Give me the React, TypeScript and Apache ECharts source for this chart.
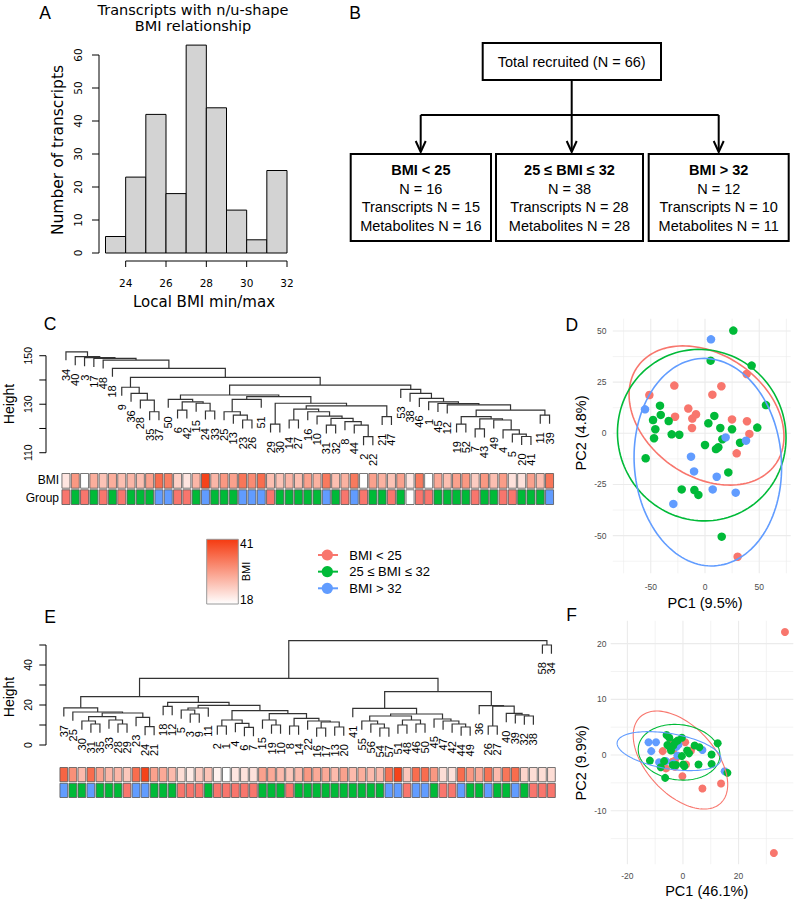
import React, { useEffect, useRef } from "react";
import * as echarts from "echarts";

const W = 794;
const H = 899;
const ARIAL = "'Liberation Sans', Arial, Helvetica, sans-serif";
const DEJAVU = "'DejaVu Sans', Verdana, sans-serif";
const RED = "#F8766D";
const GREEN = "#00BA38";
const BLUE = "#619CFF";
const GROUP_COLORS: Record<string, string> = { L: RED, M: GREEN, H: BLUE, N: "#FFFFFF" };

// ---------------- Panel A : histogram ----------------
const HIST_EDGES = [23, 24, 25, 26, 27, 28, 29, 30, 31, 32];
const HIST_COUNTS = [5, 23, 42, 18, 63, 44, 13, 4, 25];
const HIST_Y_TICKS = [0, 10, 20, 30, 40, 50, 60];
const HIST_X_TICKS = [24, 26, 28, 30, 32];

// ---------------- Panel B : flowchart ----------------
const FLOW_TOP = "Total recruited (N = 66)";
const FLOW_GROUPS = ["BMI < 25", "25 \u2264 BMI \u2264 32", "BMI > 32"];
const FLOW_N = [16, 38, 12];
const FLOW_TRANSCRIPTS = [15, 28, 10];
const FLOW_METABOLITES = [16, 28, 11];

// ---------------- Panel C : transcript dendrogram ----------------
const C_ORDER = [34, 40, 3, 17, 48, 18, 9, 36, 28, 35, 37, 50, 6, 42, 15, 24, 33, 25, 13, 23, 26, 51, 29, 30, 14, 27, 16, 10, 31, 32, 8, 44, 2, 22, 21, 47, 53, 38, 46, 1, 45, 12, 19, 52, 7, 43, 49, 4, 5, 20, 41, 11, 39];
// [left, right, height]; negative = leaf label, positive = earlier merge row (1-based)
const C_MERGES = [
  [-35, -37, 126.9], [-28, 1, 131.7], [-36, 2, 134.5], [-9, 3, 137.0],
  [-6, -42, 127.6], [-24, -33, 127.2], [-15, 6, 130.4], [5, 7, 131.0], [-50, 8, 132.0],
  [-23, -26, 123.5], [-13, 10, 125.5], [-25, 11, 126.9], [12, -51, 132.0],
  [-2, -22, 116.6], [-44, 14, 121.4], [-8, 15, 122.8], [-31, -32, 121.4], [17, 16, 124.2],
  [-10, 18, 125.1], [-16, 19, 126.9], [-14, -27, 123.5], [21, 20, 128.0], [-21, -47, 124.9],
  [22, 23, 129.3], [-29, -30, 121.8], [25, 24, 130.4], [13, 26, 133.1], [9, 27, 133.8],
  [-11, -39, 125.5], [-20, -41, 116.7], [-5, 30, 117.7], [-4, 31, 119.4], [-49, 32, 123.5],
  [-7, -43, 119.8], [34, 33, 124.0], [-19, -52, 121.8], [36, 35, 124.9], [37, 29, 127.6],
  [-12, 38, 129.7], [-45, 39, 130.3], [-1, 40, 131.0], [-46, 41, 132.4], [-38, 42, 134.5],
  [-53, 43, 136.1], [28, 44, 137.9], [4, 45, 141.1], [-18, 46, 144.8], [-48, 47, 148.2],
  [-17, 48, 148.9], [-3, 49, 149.2], [-40, 50, 149.6], [-34, 51, 151.6],
];
const C_BMI = [21, 30, 18, 27.5, 25, 27.5, 25.5, 26.5, 25.5, 29, 35, 33, 23.5, 21, 26.5, 40, 26.5, 30, 29, 34, 31.5, 35, 25.5, 25, 26.5, 25.5, 29, 27, 33.5, 25.5, 27, 33.5, 18, 29, 27, 25, 29, 21, 33.5, 18, 28, 25.5, 29, 30, 24, 30, 25.5, 29.5, 21.5, 21.5, 29, 25.5, 34];
const C_GROUP = ["L", "M", "L", "M", "L", "M", "L", "M", "M", "M", "H", "H", "L", "L", "M", "H", "M", "M", "M", "H", "H", "H", "L", "M", "M", "M", "M", "M", "H", "M", "L", "H", "L", "M", "M", "L", "M", "N", "L", "L", "M", "M", "M", "M", "L", "M", "M", "L", "L", "M", "M", "M", "H"];
const C_Y_TICKS = [110, 120, 130, 140, 150];
const C_Y_LABELS = [110, 130, 150];

// ---------------- Panel D : transcript PCA ----------------
const D_RED = [[-51.3, 18.7], [-28.3, 23.3], [-27.6, 8.1], [-15.4, 12.1], [-11.7, 7.2], [-12, 2.6], [-8.3, 9.3], [6.8, 18.9], [15.1, 23], [24.9, 6.8], [38.4, 29], [38.7, 5.9], [40.9, -0.3], [29.2, -9.8], [30.1, -60.3]];
const D_GREEN = [[26.1, 50.2], [5.2, 35.5], [43, 33.1], [56.2, 13.8], [-41.5, 13.5], [-40.8, 9], [-47.9, 6.5], [-45.8, 2], [-47, -2.4], [-33.5, 6], [-30.7, -0.5], [-23.7, -0.7], [-54.7, -12.2], [3.1, 4.9], [8.6, 8.5], [14.1, 2.6], [24.9, 2], [48.2, 2.8], [16, -2.9], [12.3, -6.8], [10.1, -7.7], [0, -5.7], [32.3, -4.6], [21.5, -19.1], [-21.5, -27.4], [-9.8, -27.7], [-6.1, -30.1], [15.4, -50.5]];
const D_BLUE = [[5.5, 45.9], [-55.3, 11.7], [-12.9, -11.4], [-10.1, -18.6], [10.8, -21.2], [19, -2], [37.8, -3.6], [7.1, -27.4], [28.3, -29], [-29.2, -34.5]];
// [cx, cy, sx, sy, r]
const D_ELL_RED = [1.4, 8.7, 71.4, 34, -0.3];
const D_ELL_GREEN = [-3, -0.9, 77.7, 41.9, -0.03];
const D_ELL_BLUE = [2.6, -14.1, 68, 50.7, -0.05];
const D_X_LABELS = [-50, 0, 50];
const D_Y_LABELS = [-50, -25, 0, 25, 50];

// ---------------- Panel E : metabolite dendrogram ----------------
const E_ORDER = [37, 25, 30, 31, 35, 33, 28, 29, 23, 24, 21, 18, 12, 5, 3, 9, 11, 2, 1, 4, 6, 7, 15, 19, 10, 8, 14, 22, 16, 17, 13, 20, 41, 55, 56, 54, 57, 51, 48, 46, 50, 45, 47, 42, 44, 49, 36, 26, 27, 40, 39, 32, 38, 58, 34];
const E_MERGES = [
  [-31, -35, 10.5], [-30, 1, 12.0], [-28, -29, 10.5], [-33, 3, 12.5], [2, 4, 14.2],
  [-24, -21, 9.2], [-23, 6, 13.8], [5, 7, 16.0], [-25, 8, 16.5], [-37, 9, 18.6],
  [-18, -12, 19.3], [-3, -9, 15.5], [-5, 12, 17.5], [13, -11, 18.5],
  [-6, -7, 8.8], [-4, 15, 10.8], [-2, -1, 9.5], [17, 16, 12.5],
  [-19, -10, 10.0], [-15, 19, 12.5], [-8, -14, 9.5], [-16, -17, 8.5], [-13, -20, 9.0],
  [22, 23, 11.5], [-22, 24, 12.0], [21, 25, 13.3], [20, 26, 15.7], [18, 27, 17.2],
  [14, 28, 19.8], [11, 29, 21.3], [10, 30, 24.2],
  [-54, -57, 8.5], [-56, 32, 10.5], [-55, 33, 12.0], [-51, -48, 10.0], [-46, -50, 10.5],
  [35, 36, 12.5], [34, 37, 14.5], [-44, -49, 9.0], [-42, 39, 10.5], [-47, 40, 12.0],
  [-45, 41, 13.0], [38, 42, 15.5], [-41, 43, 18.3],
  [-32, -38, 14.5], [-39, 45, 15.1], [-40, 46, 15.8], [-26, -27, 9.5], [48, 47, 19.4],
  [-36, 49, 19.7], [44, 50, 26.7], [31, 51, 33.3], [-58, -34, 50.0], [52, 53, 52.2],
];
const E_BMI = [36, 31, 26, 35, 29, 26.5, 26.5, 24.5, 35, 40, 29, 28, 26, 22, 20.5, 24, 25, 19.5, 18, 21, 21.5, 21.5, 29, 28, 26, 24.5, 26, 30, 28, 28, 26, 29, 26, 27.5, 26, 26, 34.5, 40, 24.5, 35, 35, 30, 22, 21.5, 35, 30, 28, 34.5, 26, 34, 35, 23, 22, 22, 22];
const E_GROUP = ["H", "M", "M", "H", "M", "M", "M", "L", "H", "H", "M", "M", "M", "L", "L", "L", "M", "L", "L", "L", "L", "L", "M", "M", "M", "L", "M", "M", "M", "M", "M", "M", "M", "M", "M", "M", "H", "H", "L", "H", "H", "M", "L", "L", "H", "M", "M", "H", "M", "M", "H", "M", "L", "L", "L"];
const E_Y_TICKS = [0, 10, 20, 30, 40, 50];
const E_Y_LABELS = [0, 20, 40];

// ---------------- Panel F : metabolite PCA ----------------
const F_RED = [[36.7, 22.1], [32.7, -17.6], [7, -6], [13.7, -5.1], [-0.2, -3.8], [0.8, 2.3], [-7.3, 0.7], [-6.1, -2.4], [-2.9, -2.1], [1.1, -1.7], [2.9, 0.8], [-3.5, 0.9], [-2.9, -1], [-4.7, 2], [-1.7, -0.2], [-3.8, -1.2]];
const F_GREEN = [[-5.9, 3.6], [-4.9, 3.1], [-5.6, 1.8], [-4.7, 1.5], [-3.5, 1.7], [-4.3, 0.8], [-1.9, 2.6], [-0.4, 3.1], [4.2, 1.7], [5.9, 1.4], [2.2, 0.3], [-0.4, -0.2], [10.3, 0.1], [12.5, 2.1], [-11.9, -1], [-6.8, -1.1], [-8, -2.2], [-3.7, -1.8], [-2.5, -1.8], [0.1, -1.7], [0.5, -2], [5.6, -1.7], [10.3, -1.6], [16, -3.2], [-6.4, -4.1], [-4.5, 1.2], [-2.8, 2.3], [1.5, 0.8]];
const F_BLUE = [[-12.4, 2.3], [-9.7, 2.3], [-11.4, 0.7], [-8.6, -1.3], [-6.1, -1.1], [-2.3, 1.5], [-1.6, 1.9], [-2, -0.1], [7, 0.9], [15, -2.9], [-3.5, -1.5]];
const F_ELL_RED = [-0.9, -0.9, 17, 8.8, -0.5];
const F_ELL_GREEN = [-1.4, 0.5, 14.7, 5, -0.1];
const F_ELL_BLUE = [-5, 0.7, 18.7, 3.5, -0.4];
const F_X_LABELS = [-20, 0, 20];
const F_Y_LABELS = [-10, 0, 10, 20];

// ---------------- BMI colour scale / legend ----------------
const BMI_RANGE = [18, 41];
const BMI_LOW_RGB = [255, 255, 255];
const BMI_HIGH_RGB = [245, 58, 16];
const LEGEND_LABELS = ["BMI < 25", "25 \u2264 BMI \u2264 32", "BMI > 32"];
const LEGEND_COLORS = [RED, GREEN, BLUE];

function bmiColor(v: number) {
  const t = Math.max(0, Math.min(1, (v - BMI_RANGE[0]) / (BMI_RANGE[1] - BMI_RANGE[0])));
  const c = BMI_LOW_RGB.map((lo, k) => Math.round(lo + (BMI_HIGH_RGB[k] - lo) * t));
  return `rgb(${c[0]},${c[1]},${c[2]})`;
}

function buildDendro(order: number[], merges: number[][]) {
  const pos = new Map(order.map((lab, i) => [lab, i]));
  const hs = merges.map((m) => m[2]);
  const hang = 0.1 * (Math.max(...hs) - Math.min(...hs));
  const nodeX: number[] = [];
  const nodeH: number[] = [];
  const links: number[][] = [];
  const leaves: number[][] = [];
  merges.forEach(([a, b, h], k) => {
    const side = (r: number) => {
      if (r < 0) {
        const x = pos.get(-r) as number;
        leaves.push([x, h - hang, -r]);
        return [x, h - hang];
      }
      return [nodeX[r - 1], nodeH[r - 1]];
    };
    const [xa, ya] = side(a);
    const [xb, yb] = side(b);
    links.push([xa, ya, xb, yb, h]);
    nodeX[k] = (xa + xb) / 2;
    nodeH[k] = h;
  });
  return { links, leaves };
}

function dendroSeries(grid: number, order: number[], merges: number[][], labelSize: number) {
  const { links, leaves } = buildDendro(order, merges);
  return [
    {
      type: "custom", xAxisIndex: grid, yAxisIndex: grid, clip: false, silent: true, z: 5,
      data: links,
      renderItem: (p: any, api: any) => {
        const [xa, ya, xb, yb, h] = links[p.dataIndex];
        const pts = [api.coord([xa, ya]), api.coord([xa, h]), api.coord([xb, h]), api.coord([xb, yb])];
        return { type: "polyline", shape: { points: pts }, style: { stroke: "#333", lineWidth: 1.2, fill: "none" } };
      },
    },
    {
      type: "custom", xAxisIndex: grid, yAxisIndex: grid, clip: false, silent: true, z: 5,
      data: leaves,
      renderItem: (p: any, api: any) => {
        const [x, y, lab] = leaves[p.dataIndex];
        const pt = api.coord([x, y]);
        return {
          type: "text", x: pt[0], y: pt[1] + 8.5, rotation: Math.PI / 2,
          style: { text: String(lab), fontSize: labelSize, fontFamily: ARIAL, fill: "#000", align: "right", verticalAlign: "middle" },
        };
      },
    },
  ];
}

function stripSeries(grid: number, values: any[], colorFn: (v: any) => string, row: number) {
  return {
    type: "custom", xAxisIndex: grid, yAxisIndex: grid, clip: false, silent: true, z: 5,
    data: values.map((_v, i) => [i, row + 0.5]),
    renderItem: (p: any, api: any) => {
      const i = p.dataIndex;
      const a = api.coord([i - 0.5, row + 1]);
      const b = api.coord([i + 0.5, row]);
      return {
        type: "rect",
        shape: { x: a[0] + 0.65, y: a[1] + 0.8, width: b[0] - a[0] - 1.3, height: b[1] - a[1] - 1.6 },
        style: { fill: colorFn(values[i]), stroke: "#555", lineWidth: 0.8 },
      };
    },
  };
}

function axisSeries(o: any) {
  return {
    type: "custom", xAxisIndex: o.grid, yAxisIndex: o.grid, clip: false, silent: true, z: 10,
    data: [[0, 0]],
    renderItem: (_p: any, api: any) => {
      const kids: any[] = [];
      const st = { stroke: "#000", lineWidth: 1 };
      const txt = (x: number, y: number, s: string, rot: number, align: string, va: string) => ({
        type: "text", x, y, rotation: rot,
        style: { text: s, fontSize: o.size, fontFamily: o.font, fill: o.color || "#000", align, verticalAlign: va },
      });
      const ticks: number[] = o.ticks || [];
      const fmt = (v: number) => String(v);
      if (o.dir === "y") {
        const pt = (v: number) => api.coord([o.cross, v]);
        const x0 = pt(o.labels[0])[0] - (o.offset || 0);
        if (o.line && ticks.length) {
          kids.push({ type: "line", shape: { x1: x0, y1: pt(ticks[0])[1], x2: x0, y2: pt(ticks[ticks.length - 1])[1] }, style: st });
        }
        if (o.tick) ticks.forEach((t) => { const y = pt(t)[1]; kids.push({ type: "line", shape: { x1: x0, y1: y, x2: x0 - o.tick, y2: y }, style: st }); });
        o.labels.forEach((v: number) => {
          const y = pt(v)[1];
          kids.push(o.rotate ? txt(x0 - o.dist, y, fmt(v), Math.PI / 2, "center", "middle") : txt(x0 - o.dist, y, fmt(v), 0, "right", "middle"));
        });
      } else {
        const pt = (v: number) => api.coord([v, o.cross]);
        const y0 = pt(o.labels[0])[1] + (o.offset || 0);
        if (o.line && ticks.length) {
          kids.push({ type: "line", shape: { x1: pt(ticks[0])[0], y1: y0, x2: pt(ticks[ticks.length - 1])[0], y2: y0 }, style: st });
        }
        if (o.tick) ticks.forEach((t) => { const x = pt(t)[0]; kids.push({ type: "line", shape: { x1: x, y1: y0, x2: x, y2: y0 + o.tick }, style: st }); });
        o.labels.forEach((v: number) => { const x = pt(v)[0]; kids.push(txt(x, y0 + o.dist, fmt(v), 0, "center", "middle")); });
      }
      return { type: "group", children: kids };
    },
  };
}

function panelGridSeries(grid: number, xr: number[], yr: number[], xMajor: number[], xMinor: number[], yMajor: number[], yMinor: number[]) {
  return {
    type: "custom", xAxisIndex: grid, yAxisIndex: grid, clip: false, silent: true, z: 1,
    data: [[xr[0], yr[0]]],
    renderItem: (_p: any, api: any) => {
      const kids: any[] = [];
      const add = (p0: number[], p1: number[], lw: number) =>
        kids.push({ type: "line", shape: { x1: p0[0], y1: p0[1], x2: p1[0], y2: p1[1] }, style: { stroke: "#EBEBEB", lineWidth: lw } });
      xMinor.forEach((v) => add(api.coord([v, yr[0]]), api.coord([v, yr[1]]), 0.6));
      yMinor.forEach((v) => add(api.coord([xr[0], v]), api.coord([xr[1], v]), 0.6));
      xMajor.forEach((v) => add(api.coord([v, yr[0]]), api.coord([v, yr[1]]), 1.1));
      yMajor.forEach((v) => add(api.coord([xr[0], v]), api.coord([xr[1], v]), 1.1));
      return { type: "group", children: kids };
    },
  };
}

function ellipseSeries(grid: number, e: number[], color: string, lw: number) {
  return {
    type: "custom", xAxisIndex: grid, yAxisIndex: grid, clip: false, silent: true, z: 4,
    data: [[e[0], e[1]]],
    renderItem: (_p: any, api: any) => {
      const [cx, cy, sx, sy, r] = e;
      const q = Math.sqrt(1 - r * r);
      const pts: number[][] = [];
      for (let k = 0; k < 140; k++) {
        const t = (2 * Math.PI * k) / 140;
        pts.push(api.coord([cx + sx * Math.cos(t), cy + sy * (r * Math.cos(t) + q * Math.sin(t))]));
      }
      return { type: "polygon", shape: { points: pts }, style: { fill: "none", stroke: color, lineWidth: lw } };
    },
  };
}

function scatterSeries(grid: number, data: number[][], color: string, size: number) {
  return { type: "scatter", xAxisIndex: grid, yAxisIndex: grid, data, symbolSize: size, silent: true, z: 3, itemStyle: { color, opacity: 1 } };
}

function T(x: number, y: number, text: string, size: number, o: any = {}) {
  return {
    type: "text", x, y, rotation: o.rot || 0,
    style: {
      text, fontSize: size, fontFamily: o.font || ARIAL, fill: o.fill || "#000",
      align: o.align || "center", verticalAlign: o.va || "middle", fontWeight: o.weight || "normal",
    },
  };
}
function Ln(x1: number, y1: number, x2: number, y2: number, lw = 2) {
  return { type: "line", shape: { x1, y1, x2, y2 }, style: { stroke: "#000", lineWidth: lw } };
}

function buildGraphic() {
  const els: any[] = [];
  // panel letters
  [["A", 45, 13], ["B", 355, 12.5], ["C", 50, 324], ["D", 571.7, 325], ["E", 50, 617], ["F", 571.7, 615]].forEach(([s, x, y]) =>
    els.push(T(x as number, y as number, s as string, 17.5)));
  // Panel A texts
  els.push(T(193, 9.5, "Transcripts with n/u-shape", 14.5, { font: DEJAVU }));
  els.push(T(193, 25.5, "BMI relationship", 14.5, { font: DEJAVU }));
  els.push(T(58, 150, "Number of transcripts", 15.5, { font: DEJAVU, rot: Math.PI / 2 }));
  els.push(T(204, 302, "Local BMI min/max", 15, { font: DEJAVU }));
  // Panel B flowchart
  els.push({ type: "rect", shape: { x: 482.7, y: 43, width: 178.3, height: 37 }, style: { stroke: "#000", lineWidth: 2, fill: "none" } });
  els.push(T(571.7, 61.5, FLOW_TOP, 14.5));
  els.push(Ln(571.7, 80, 571.7, 151));
  els.push(Ln(420.7, 115, 718.7, 115));
  els.push(Ln(420.7, 115, 420.7, 151));
  els.push(Ln(718.7, 115, 718.7, 151));
  [420.7, 571.7, 718.7].forEach((x) =>
    els.push({ type: "polyline", shape: { points: [[x - 5, 141], [x, 152], [x + 5, 141]] }, style: { stroke: "#000", lineWidth: 2, fill: "none" } }));
  [[350.7, 140.3], [496, 147], [648.7, 140]].forEach(([x, w], k) => {
    els.push({ type: "rect", shape: { x, y: 154, width: w, height: 87 }, style: { stroke: "#000", lineWidth: 2, fill: "none" } });
    const cx = x + w / 2;
    els.push(T(cx, 170, FLOW_GROUPS[k], 14.5, { weight: "bold" }));
    els.push(T(cx, 188.5, `N = ${FLOW_N[k]}`, 14.5));
    els.push(T(cx, 207, `Transcripts N = ${FLOW_TRANSCRIPTS[k]}`, 14.5));
    els.push(T(cx, 225.5, `Metabolites N = ${FLOW_METABOLITES[k]}`, 14.5));
  });
  // Panel C / E texts
  els.push(T(8.5, 404, "Height", 14, { rot: Math.PI / 2 }));
  els.push(T(8.5, 697, "Height", 14, { rot: Math.PI / 2 }));
  els.push(T(59, 480, "BMI", 12, { align: "right" }));
  els.push(T(59, 497.7, "Group", 12, { align: "right" }));
  // colour bar legend
  els.push({
    type: "rect", shape: { x: 206.7, y: 539.3, width: 31.6, height: 64.7 },
    style: {
      fill: new echarts.graphic.LinearGradient(0, 0, 0, 1, [
        { offset: 0, color: bmiColor(BMI_RANGE[1]) },
        { offset: 1, color: bmiColor(BMI_RANGE[0]) },
      ]),
      stroke: "#999", lineWidth: 1,
    },
  });
  els.push(T(240, 544, String(BMI_RANGE[1]), 12, { align: "left" }));
  els.push(T(240, 600, String(BMI_RANGE[0]), 12, { align: "left" }));
  els.push(T(246, 571.5, "BMI", 11, { rot: Math.PI / 2 }));
  // group legend
  LEGEND_LABELS.forEach((lab, k) => {
    const y = 555 + 16.65 * k;
    els.push({ type: "line", shape: { x1: 318, y1: y, x2: 338, y2: y }, style: { stroke: LEGEND_COLORS[k], lineWidth: 2 } });
    els.push({ type: "circle", shape: { cx: 327.3, cy: y, r: 5.6 }, style: { fill: LEGEND_COLORS[k] } });
    els.push(T(349.3, y, lab, 13, { align: "left" }));
  });
  // PCA axis titles
  els.push(T(705, 603, "PC1 (9.5%)", 14.5));
  els.push(T(580.7, 433, "PC2 (4.8%)", 14.5, { rot: Math.PI / 2 }));
  els.push(T(706.7, 890.5, "PC1 (46.1%)", 14.5));
  els.push(T(580.7, 763, "PC2 (9.9%)", 14.5, { rot: Math.PI / 2 }));
  return els;
}

function buildOption() {
  const grids = [
    { left: 105.5, top: 38.5, width: 181.5, height: 214.5 },
    { left: 61.3, top: 343.6, width: 492.9, height: 121.25 },
    { left: 61.3, top: 472.7, width: 492.9, height: 32.6 },
    { left: 612.8, top: 318.7, width: 177.9, height: 254.6 },
    { left: 59.3, top: 635, width: 496.65, height: 120 },
    { left: 59.3, top: 766.7, width: 496.65, height: 31.6 },
    { left: 610.7, top: 620.8, width: 182.6, height: 243.4 },
  ];
  const xr = [[23, 32], [-0.5, C_ORDER.length - 0.5], [-0.5, C_ORDER.length - 0.5], [-85, 79], [-0.5, E_ORDER.length - 0.5], [-0.5, E_ORDER.length - 0.5], [-26, 39.7]];
  const yr = [[0, 65], [105, 155], [0, 2], [-68.4, 56], [-5, 55], [0, 2], [-19.6, 24.1]];
  const series: any[] = [];

  // A histogram
  series.push({
    type: "custom", xAxisIndex: 0, yAxisIndex: 0, clip: false, silent: true, z: 5,
    data: HIST_COUNTS.map((c, i) => [HIST_EDGES[i], c, HIST_EDGES[i + 1]]),
    renderItem: (_p: any, api: any) => {
      const p0 = api.coord([api.value(0), 0]);
      const p1 = api.coord([api.value(2), api.value(1)]);
      return { type: "rect", shape: { x: p0[0], y: p1[1], width: p1[0] - p0[0], height: p0[1] - p1[1] }, style: { fill: "#D3D3D3", stroke: "#000", lineWidth: 1 } };
    },
  });
  series.push(axisSeries({ grid: 0, dir: "y", cross: 23, ticks: HIST_Y_TICKS, labels: HIST_Y_TICKS, offset: 6.5, tick: 7, dist: 21, size: 10.5, font: DEJAVU, line: true, rotate: true }));
  series.push(axisSeries({ grid: 0, dir: "x", cross: 0, ticks: HIST_X_TICKS, labels: HIST_X_TICKS, offset: 8, tick: 6, dist: 22, size: 10.5, font: DEJAVU, line: true }));

  // C dendrogram
  series.push(...dendroSeries(1, C_ORDER, C_MERGES, 11));
  series.push(axisSeries({ grid: 1, dir: "y", cross: -0.5, ticks: C_Y_TICKS, labels: C_Y_LABELS, offset: 15.3, tick: 6.7, dist: 18, size: 10.5, font: ARIAL, line: true, rotate: true }));
  series.push(stripSeries(2, C_BMI, bmiColor, 1));
  series.push(stripSeries(2, C_GROUP, (g) => GROUP_COLORS[g], 0));

  // D PCA
  series.push(panelGridSeries(3, xr[3], yr[3], [-50, 0, 50], [-75, -25, 25, 75], [-50, -25, 0, 25, 50], [-62.5, -37.5, -12.5, 12.5, 37.5]));
  series.push(scatterSeries(3, D_RED, RED, 8.5));
  series.push(scatterSeries(3, D_GREEN, GREEN, 8.5));
  series.push(scatterSeries(3, D_BLUE, BLUE, 8.5));
  series.push(ellipseSeries(3, D_ELL_RED, RED, 1.6));
  series.push(ellipseSeries(3, D_ELL_GREEN, GREEN, 1.6));
  series.push(ellipseSeries(3, D_ELL_BLUE, BLUE, 1.6));
  series.push(axisSeries({ grid: 3, dir: "y", cross: xr[3][0], labels: D_Y_LABELS, dist: 6.3, size: 8.5, font: ARIAL, color: "#4D4D4D" }));
  series.push(axisSeries({ grid: 3, dir: "x", cross: yr[3][0], labels: D_X_LABELS, dist: 13.4, size: 8.5, font: ARIAL, color: "#4D4D4D" }));

  // E dendrogram
  series.push(...dendroSeries(4, E_ORDER, E_MERGES, 11));
  series.push(axisSeries({ grid: 4, dir: "y", cross: -0.5, ticks: E_Y_TICKS, labels: E_Y_LABELS, offset: 13.3, tick: 6.7, dist: 18, size: 10.5, font: ARIAL, line: true, rotate: true }));
  series.push(stripSeries(5, E_BMI, bmiColor, 1));
  series.push(stripSeries(5, E_GROUP, (g) => GROUP_COLORS[g], 0));

  // F PCA
  series.push(panelGridSeries(6, xr[6], yr[6], [-20, 0, 20], [-10, 10, 30], [-10, 0, 10, 20], [-15, -5, 5, 15]));
  series.push(scatterSeries(6, F_RED, RED, 8));
  series.push(scatterSeries(6, F_BLUE, BLUE, 8));
  series.push(scatterSeries(6, F_GREEN, GREEN, 8));
  series.push(ellipseSeries(6, F_ELL_RED, RED, 1.1));
  series.push(ellipseSeries(6, F_ELL_GREEN, GREEN, 1.1));
  series.push(ellipseSeries(6, F_ELL_BLUE, BLUE, 1.1));
  series.push(axisSeries({ grid: 6, dir: "y", cross: xr[6][0], labels: F_Y_LABELS, dist: 4.2, size: 8.5, font: ARIAL, color: "#4D4D4D" }));
  series.push(axisSeries({ grid: 6, dir: "x", cross: yr[6][0], labels: F_X_LABELS, dist: 11.5, size: 8.5, font: ARIAL, color: "#4D4D4D" }));

  return {
    animation: false,
    backgroundColor: "#FFFFFF",
    grid: grids.map((g) => ({ ...g, containLabel: false, show: false })),
    xAxis: xr.map((r, i) => ({ type: "value", gridIndex: i, min: r[0], max: r[1], show: false })),
    yAxis: yr.map((r, i) => ({ type: "value", gridIndex: i, min: r[0], max: r[1], show: false })),
    series,
    graphic: { elements: buildGraphic() },
  };
}

export default function App() {
  const ref = useRef<HTMLDivElement>(null);
  useEffect(() => {
    if (!ref.current) return;
    const chart = echarts.init(ref.current, null, { renderer: "svg", width: W, height: H });
    chart.setOption(buildOption() as any);
    return () => chart.dispose();
  }, []);
  return <div ref={ref} style={{ position: "absolute", left: 0, top: 0, width: W, height: H, background: "#fff" }} />;
}
